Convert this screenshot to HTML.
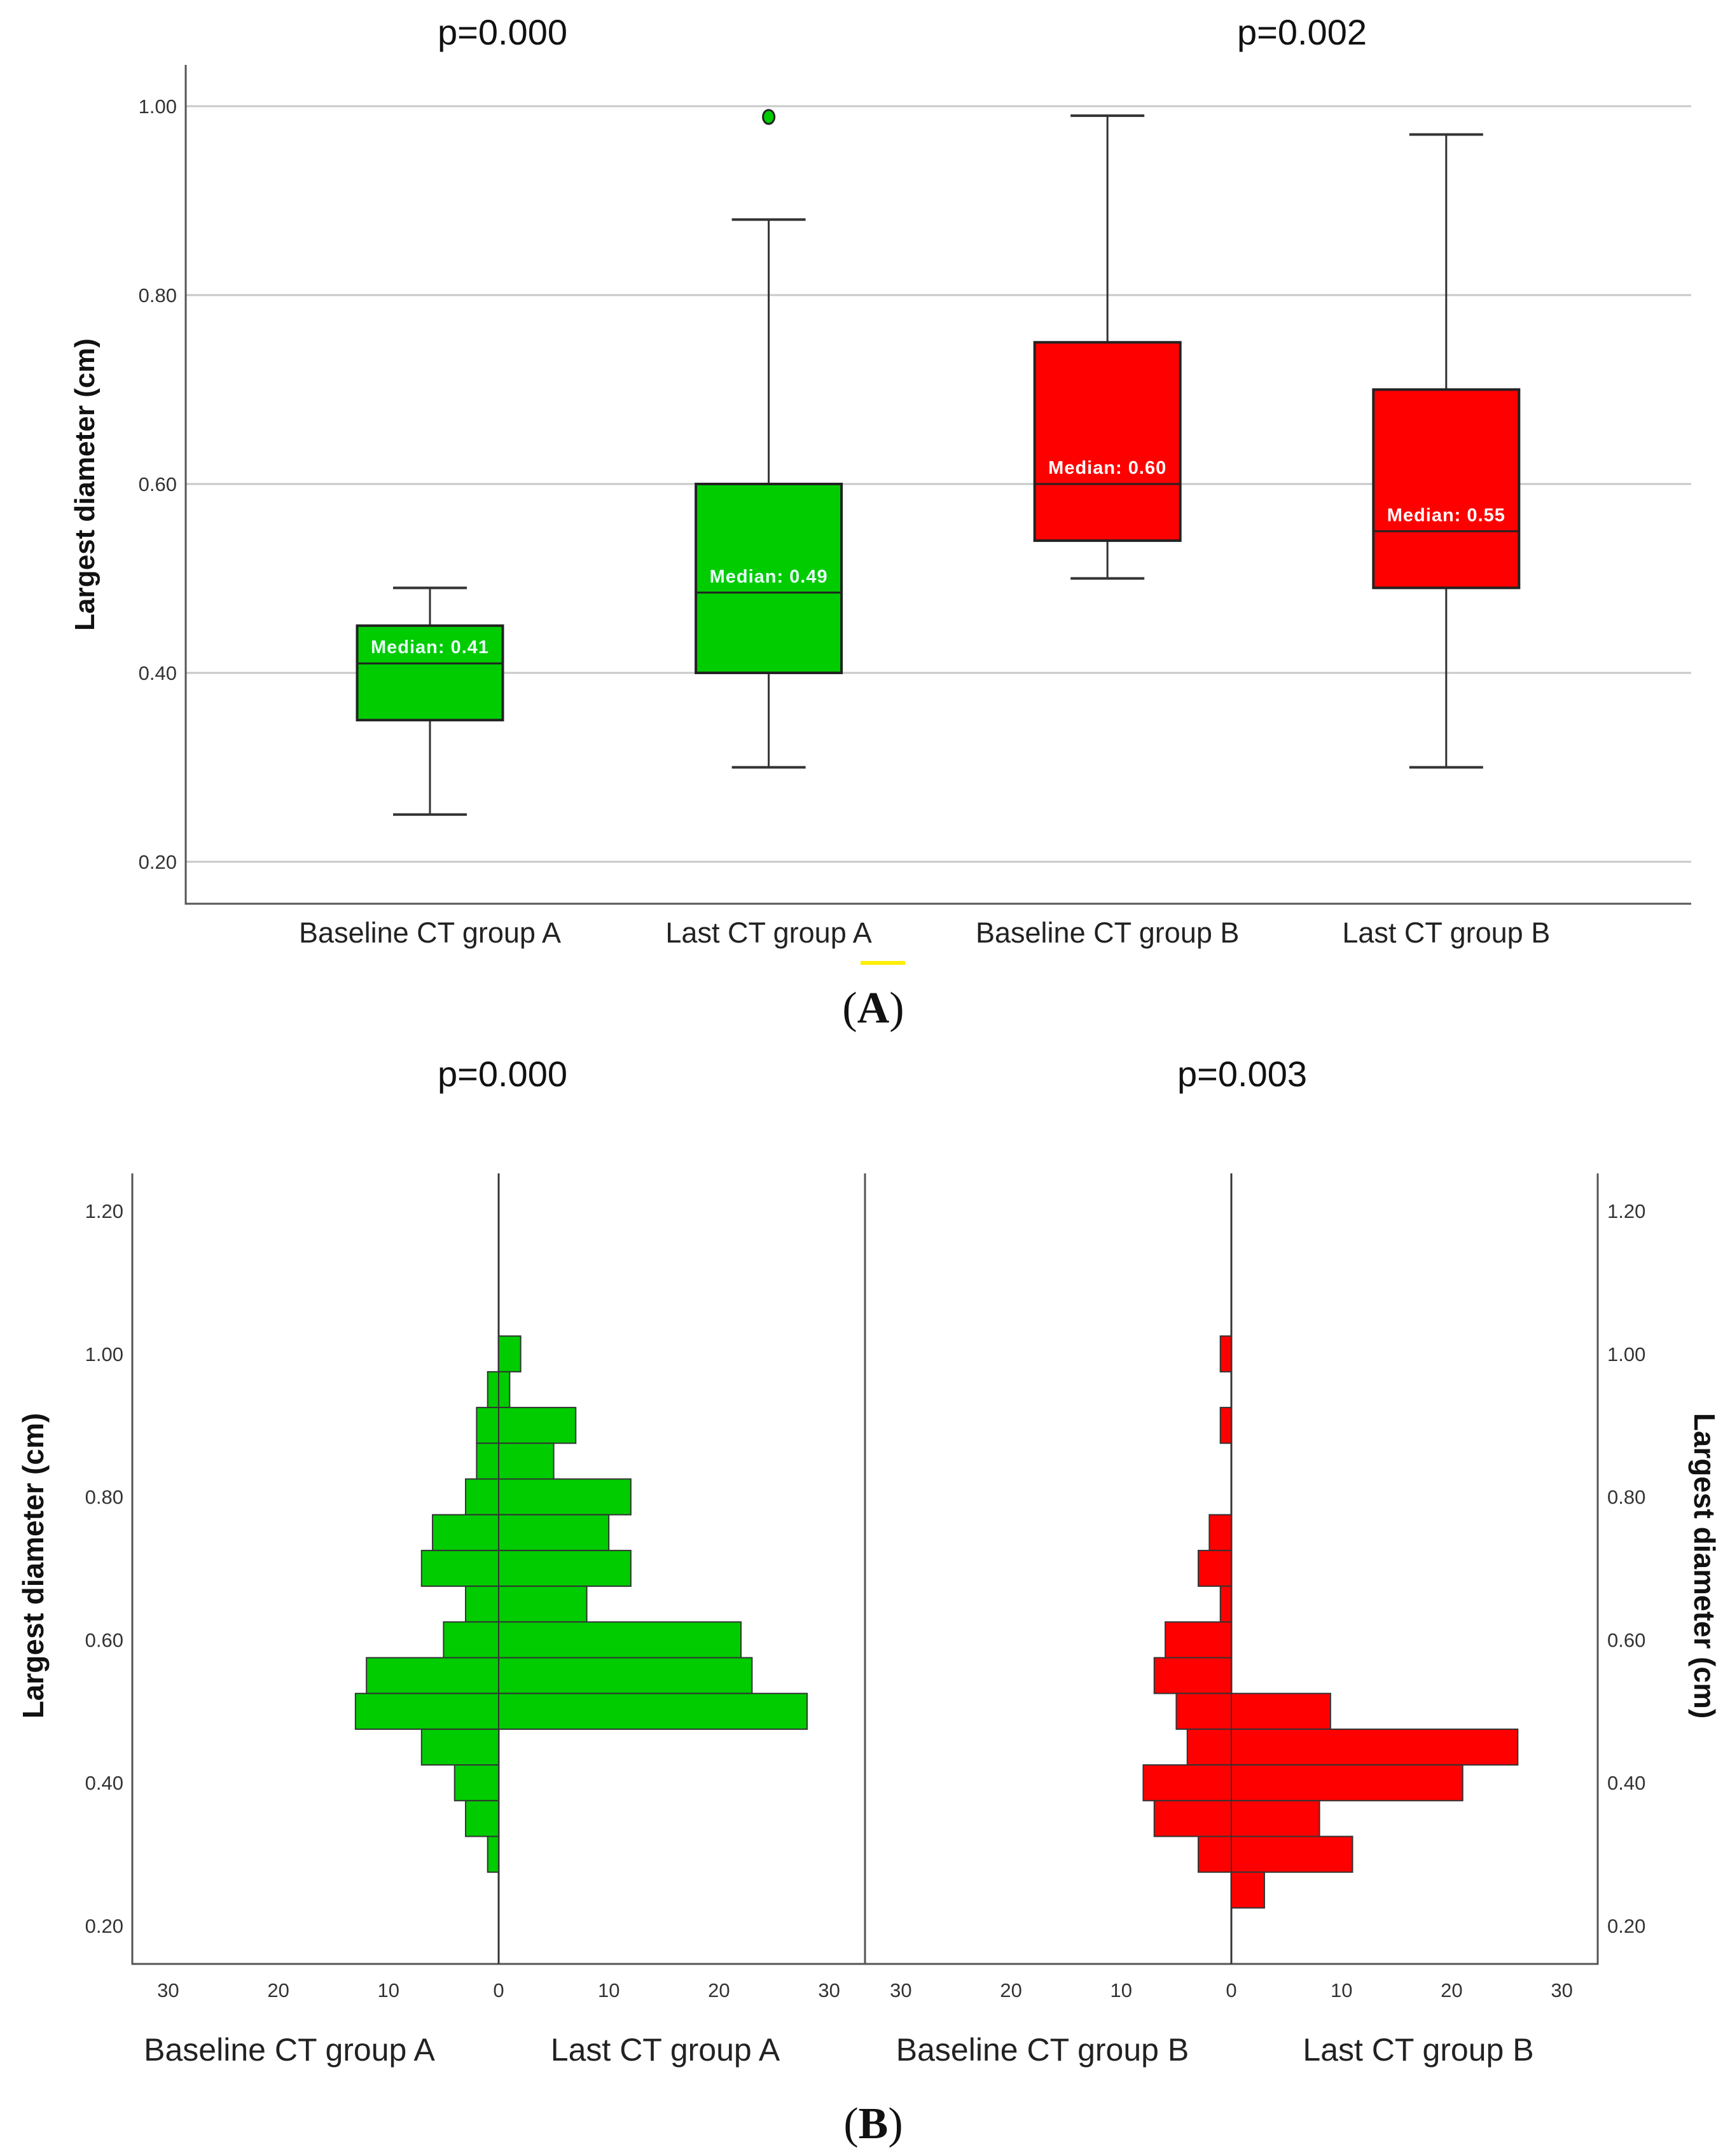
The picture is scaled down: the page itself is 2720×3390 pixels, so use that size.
<!DOCTYPE html>
<html><head><meta charset="utf-8">
<style>
html,body{margin:0;padding:0;background:#fff;}
svg{display:block;}
text{font-family:"Liberation Sans",sans-serif;}
</style></head>
<body>
<svg id="fig" width="2720" height="3390" viewBox="0 0 2720 3390" xmlns="http://www.w3.org/2000/svg">
<rect width="2720" height="3390" fill="#fff"/>
<g id="panelA"></g>
<g id="panelB"></g>
</svg>
<script>
// ===== Panel A data =====
const boxCategories = ["Baseline CT group A","Last CT group A","Baseline CT group B","Last CT group B"];
const boxMin = [0.25, 0.30, 0.50, 0.30];
const boxQ1 = [0.35, 0.40, 0.54, 0.49];
const boxMedian = [0.41, 0.485, 0.60, 0.55];
const boxQ3 = [0.45, 0.60, 0.75, 0.70];
const boxMax = [0.49, 0.88, 0.99, 0.97];
const boxMedianLabels = ["Median: 0.41","Median: 0.49","Median: 0.60","Median: 0.55"];
const boxOutliers = [[], [0.99], [], []];
const boxColors = ["#00cc00","#00cc00","#ff0000","#ff0000"];
const boxYTicks = [0.20, 0.40, 0.60, 0.80, 1.00];
const boxYTickLabels = ["0.20","0.40","0.60","0.80","1.00"];
const pValuesA = ["p=0.000","p=0.002"];

// ===== Panel B data =====
const binCenters = [1.00,0.95,0.90,0.85,0.80,0.75,0.70,0.65,0.60,0.55,0.50,0.45,0.40,0.35,0.30,0.25];
const baselineA = [0,1,2,2,3,6,7,3,5,12,13,7,4,3,1,0];
const lastA = [2,1,7,5,12,10,12,8,22,23,28,0,0,0,0,0];
const baselineB = [1,0,1,0,0,2,3,1,6,7,5,4,8,7,3,0];
const lastB = [0,0,0,0,0,0,0,0,0,0,9,26,21,8,11,3];
const pyrYTicks = [0.20,0.40,0.60,0.80,1.00,1.20];
const pyrYTickLabels = ["0.20","0.40","0.60","0.80","1.00","1.20"];
const pyrXTicks = [30,20,10,0,10,20,30];
const pValuesB = ["p=0.000","p=0.003"];
const pyrGroupLabels = ["Baseline CT group A","Last CT group A","Baseline CT group B","Last CT group B"];

const NS="http://www.w3.org/2000/svg";
function mk(parent, tag, attrs, txt){
  const e=document.createElementNS(NS,tag);
  for(const k in attrs) e.setAttribute(k, attrs[k]);
  if(txt!==undefined) e.textContent=txt;
  parent.appendChild(e); return e;
}

// ---------- Panel A ----------
(function(){
  const g=document.getElementById('panelA');
  const L=292,R=2659,T=102,B=1421;
  const yA=v=>167+(1.0-v)*(1355-167)/0.8;
  const xA=i=>676+i*532.6;
  const bw=229, cw=116;
  boxYTicks.forEach((t,i)=>{
    const gl=mk(g,'line',{x1:L,x2:R,y1:yA(t),y2:yA(t),stroke:'#c8c8c8','stroke-width':3});
    
    
    const tl=mk(g,'text',{x:L-14,y:yA(t)+11,'text-anchor':'end','font-size':31,fill:'#333'},boxYTickLabels[i]);
    
    
  });
  const ax=mk(g,'path',{d:`M${L} ${T} V${B} H${R}`,fill:'none',stroke:'#555','stroke-width':3});
  
  
  boxCategories.forEach((c,i)=>{
    const cx=xA(i);
    const bg=mk(g,'g',{});
    
    
    mk(bg,'line',{x1:cx,x2:cx,y1:yA(boxMax[i]),y2:yA(boxQ3[i]),stroke:'#333','stroke-width':3});
    mk(bg,'line',{x1:cx,x2:cx,y1:yA(boxQ1[i]),y2:yA(boxMin[i]),stroke:'#333','stroke-width':3});
    mk(bg,'line',{x1:cx-cw/2,x2:cx+cw/2,y1:yA(boxMax[i]),y2:yA(boxMax[i]),stroke:'#333','stroke-width':4});
    mk(bg,'line',{x1:cx-cw/2,x2:cx+cw/2,y1:yA(boxMin[i]),y2:yA(boxMin[i]),stroke:'#333','stroke-width':4});
    mk(bg,'rect',{x:cx-bw/2,y:yA(boxQ3[i]),width:bw,height:yA(boxQ1[i])-yA(boxQ3[i]),fill:boxColors[i],stroke:'#222','stroke-width':4});
    mk(bg,'line',{x1:cx-bw/2,x2:cx+bw/2,y1:yA(boxMedian[i]),y2:yA(boxMedian[i]),stroke:'#222','stroke-width':3});
    const ml=mk(bg,'text',{x:cx,y:yA(boxMedian[i])-16,'text-anchor':'middle','font-size':29,'font-weight':'bold',fill:i<2?'#e8fff8':'#fff','letter-spacing':1},boxMedianLabels[i]);
    
    
    boxOutliers[i].forEach(o=>{
      const oc=mk(g,'ellipse',{cx:cx,cy:yA(o)+2,rx:9,ry:11,fill:'#00cc00',stroke:'#222','stroke-width':3});
      
      
    });
    const xl=mk(g,'text',{x:cx,y:1482,'text-anchor':'middle','font-size':45,fill:'#222'},c);
    
    
  });
  const yt=mk(g,'text',{x:0,y:0,transform:'translate(148,762) rotate(-90)','text-anchor':'middle','font-size':44,'font-weight':'bold',fill:'#111'},'Largest diameter (cm)');
  
  
  [790,2047].forEach((x,i)=>{
    const p=mk(g,'text',{x:x,y:70,'text-anchor':'middle','font-size':56,fill:'#111'},pValuesA[i]);
    
    
  });
  const u=mk(g,'rect',{x:1353,y:1511,width:70,height:6,fill:'#ffee00'});
  
  
  const lab=mk(g,'text',{x:1373,y:1608,'text-anchor':'middle','font-size':70,fill:'#111'});
  lab.innerHTML='(<tspan font-weight="bold">A</tspan>)';
  lab.setAttribute('style','font-family:"Liberation Serif",serif');
  
  
})();

// ---------- Panel B ----------
(function(){
  const g=document.getElementById('panelB');
  const L=208,R=2512,M=1360,T=1845,B=3088;
  const yB=v=>1904+(1.2-v)*(3028-1904)/1.0;
  const unit=173.2/10;
  const zeros=[784,1936];
  const binH=(3028-1904)/1.0*0.05;
  const ax=mk(g,'path',{d:`M${L} ${T} V${B} H${R} V${T}`,fill:'none',stroke:'#555','stroke-width':3});
  
  
  const dv=mk(g,'line',{x1:M,x2:M,y1:T,y2:B,stroke:'#555','stroke-width':3});
  
  
  zeros.forEach(z=>{
    const zl=mk(g,'line',{x1:z,x2:z,y1:T,y2:B,stroke:'#444','stroke-width':3});
    
    
  });
  pyrYTicks.forEach((t,i)=>{
    const a=mk(g,'text',{x:L-14,y:yB(t)+11,'text-anchor':'end','font-size':31,fill:'#333'},pyrYTickLabels[i]);
    
    
    const b=mk(g,'text',{x:R+15,y:yB(t)+11,'text-anchor':'start','font-size':31,fill:'#333'},pyrYTickLabels[i]);
    
    
  });
  zeros.forEach(z=>{
    pyrXTicks.forEach((t,j)=>{
      const x=z+(j<3?-t:t)*unit;
      const tl=mk(g,'text',{x:x,y:3140,'text-anchor':'middle','font-size':31,fill:'#333'},String(t));
      
      
    });
  });
  const series=[[baselineA,zeros[0],-1,'#00cc00'],[lastA,zeros[0],1,'#00cc00'],[baselineB,zeros[1],-1,'#ff0000'],[lastB,zeros[1],1,'#ff0000']];
  series.forEach(([vals,z,dir,col])=>{
    vals.forEach((v,k)=>{
      if(!v) return;
      const w=v*unit;
      const r=mk(g,'rect',{x:dir<0?z-w:z,y:yB(binCenters[k]+0.025),width:w,height:binH,fill:col,stroke:'#333','stroke-width':2});
      
      
    });
  });
  zeros.forEach(z=>{mk(g,'line',{x1:z,x2:z,y1:T,y2:B,stroke:'#333','stroke-width':2});});
  [455,1046,1639,2230].forEach((x,i)=>{
    const t=mk(g,'text',{x:x,y:3240,'text-anchor':'middle','font-size':50,fill:'#222'},pyrGroupLabels[i]);
    
    
  });
  [790,1953].forEach((x,i)=>{
    const p=mk(g,'text',{x:x,y:1708,'text-anchor':'middle','font-size':56,fill:'#111'},pValuesB[i]);
    
    
  });
  const yl=mk(g,'text',{x:0,y:0,transform:'translate(68,2462) rotate(-90)','text-anchor':'middle','font-size':46,'font-weight':'bold',fill:'#111'},'Largest diameter (cm)');
  
  
  const yr=mk(g,'text',{x:0,y:0,transform:'translate(2664,2462) rotate(90)','text-anchor':'middle','font-size':46,'font-weight':'bold',fill:'#111'},'Largest diameter (cm)');
  
  
  const lab=mk(g,'text',{x:1373,y:3362,'text-anchor':'middle','font-size':70,fill:'#111'});
  lab.innerHTML='(<tspan font-weight="bold">B</tspan>)';
  lab.setAttribute('style','font-family:"Liberation Serif",serif');
  
  
})();
</script>
</body></html>
